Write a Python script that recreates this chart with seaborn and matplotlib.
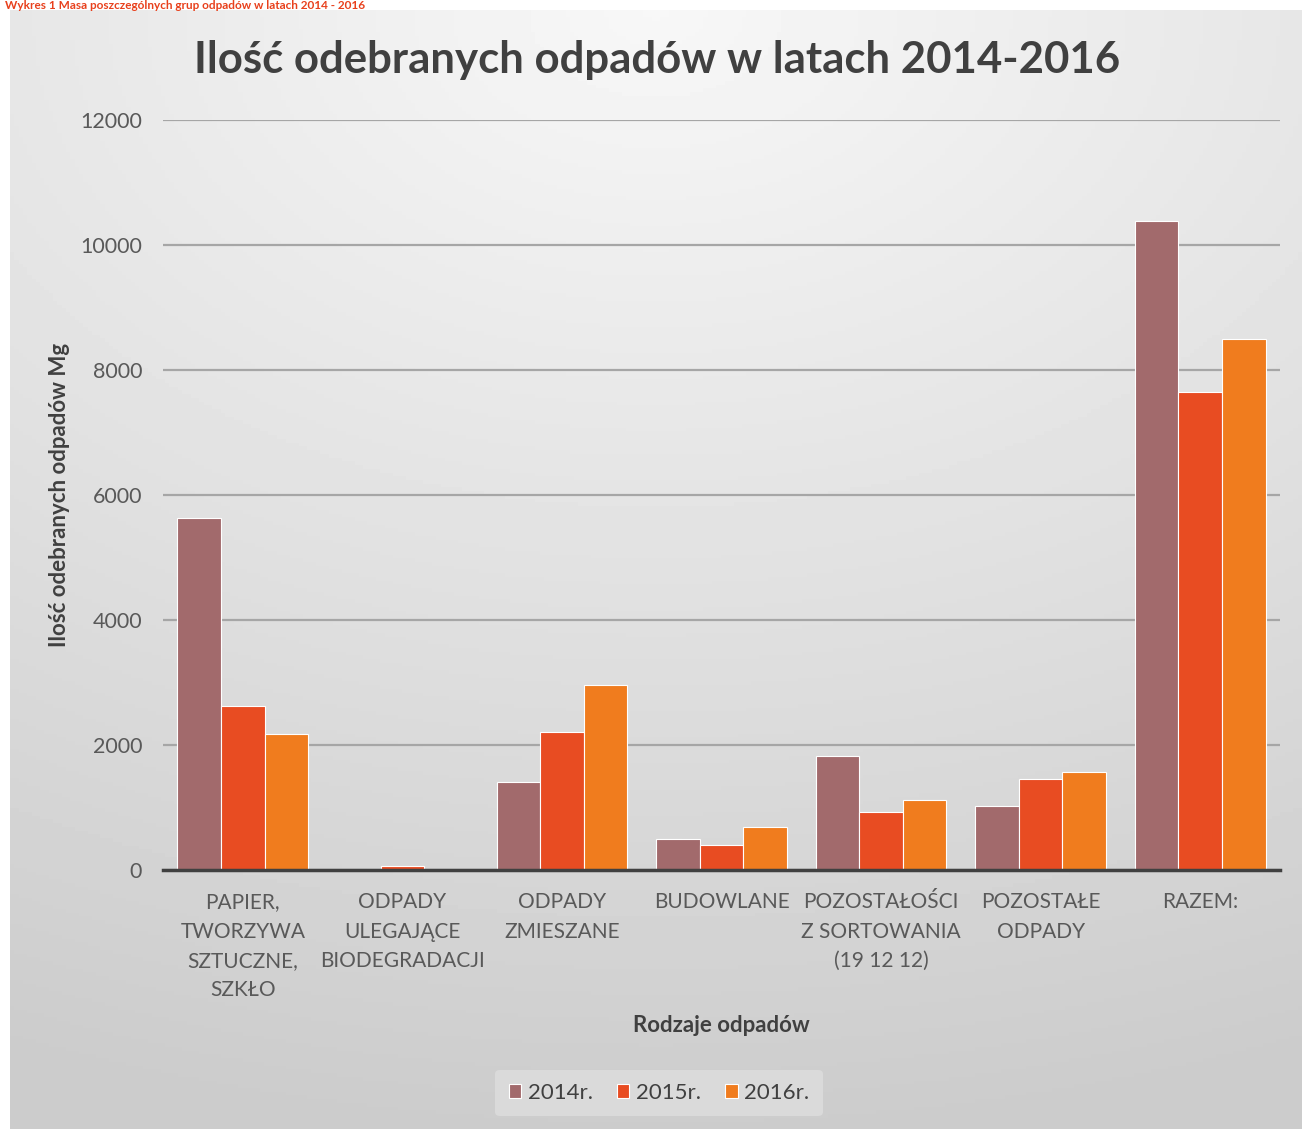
import numpy as np
import pandas as pd
import matplotlib
matplotlib.use("Agg")
import matplotlib.pyplot as plt
import seaborn as sns
from matplotlib.ticker import FixedLocator

# Dane
kategorie = ["PAPIER,\nTWORZYWA\nSZTUCZNE,\nSZKŁO",
             "ODPADY\nULEGAJĄCE\nBIODEGRADACJI",
             "ODPADY\nZMIESZANE",
             "BUDOWLANE",
             "POZOSTAŁOŚCI\nZ SORTOWANIA\n(19 12 12)",
             "POZOSTAŁE\nODPADY",
             "RAZEM:"]
lata = ["2014r.", "2015r.", "2016r."]
masa_2014 = [5630, 0, 1410, 500, 1830, 1020, 10380]
masa_2015 = [2620, 60, 2210, 400, 930, 1460, 7650]
masa_2016 = [2180, 0, 2960, 690, 1120, 1570, 8490]
kolory = ["#a26a6c", "#e84c22", "#f07c1e"]

df = pd.DataFrame({
    "kategoria": kategorie * 3,
    "rok": [lata[0]] * 7 + [lata[1]] * 7 + [lata[2]] * 7,
    "masa": masa_2014 + masa_2015 + masa_2016,
})

sns.set_style("white")
plt.rcParams['font.family'] = ['Lato', 'DejaVu Sans']

W, H = 1302, 1129
fig = plt.figure(figsize=(W / 100, H / 100), dpi=100)
fig.patch.set_facecolor("white")

# tło z gradientem
tlo = fig.add_axes([10 / W, 0, 1 - 10 / W, (H - 10) / H], zorder=0)
yy, xx = np.mgrid[0:1:300j, 0:1:300j]
grad = 0.97 - 0.17 * np.clip(np.sqrt((xx - 0.5) ** 2 * 0.6 + (yy) ** 2), 0, 1)
tlo.imshow(grad, cmap="gray", vmin=0, vmax=1, aspect="auto", extent=[0, 1, 0, 1],
           origin="upper")
tlo.axis("off")

ax = fig.add_axes([163 / W, 259 / H, 1117 / W, 750 / H], zorder=1)
ax.patch.set_alpha(0)

sns.barplot(data=df, x="kategoria", y="masa", hue="rok", palette=kolory,
            width=0.82, ax=ax, edgecolor="white", linewidth=0.8, saturation=1)

ax.set_ylim(0, 12000)
ax.set_xlim(-0.5, 6.5)
ax.set_yticks(range(0, 12001, 2000))
ax.yaxis.grid(True, color="#a6a6a6", linewidth=1.6)
ax.set_axisbelow(True)
for s in ["top", "right", "left"]:
    ax.spines[s].set_visible(False)
ax.spines["bottom"].set_color("#404040")
ax.spines["bottom"].set_linewidth(2.5)

ax.tick_params(axis="y", length=0, labelsize=15.5, labelcolor="#595959", pad=15)
ax.tick_params(axis="x", which="major", length=0, labelsize=15,
               labelcolor="#595959", pad=16)
ax.xaxis.set_minor_locator(FixedLocator(np.arange(-0.5, 7, 1)))
ax.tick_params(axis="x", which="minor", length=7, width=2.5, color="#404040")
for t in ax.get_xticklabels():
    t.set_linespacing(1.58)

ax.set_xlabel("Rodzaje odpadów", fontsize=16, fontweight="bold", color="#404040")
ax.xaxis.set_label_coords(0.5, -(1025 - 870) / 750)
ax.set_ylabel("Ilość odebranych odpadów Mg", fontsize=16, fontweight="bold",
              color="#404040")
ax.yaxis.set_label_coords((60 - 163) / 1117, 0.5)
ax.xaxis.label.set_va("center")
ax.yaxis.label.set_va("center")

fig.text(0.505, 1 - 60 / H, "Ilość odebranych odpadów w latach 2014-2016",
         ha="center", va="center", fontsize=31.5, fontweight="bold", color="#404040")
fig.text(5 / W, 1.0, "Wykres 1 Masa poszczególnych grup odpadów w latach 2014 - 2016",
         ha="left", va="top", fontsize=8.5, fontweight="bold", color="#e8401c")

leg = ax.legend(loc="center", ncol=3, frameon=True,
                fontsize=16, handlelength=0.55, handleheight=0.55, handletextpad=0.3,
                columnspacing=1.1, borderpad=0.6)
leg.get_frame().set_facecolor("#dadada")
leg.get_frame().set_edgecolor("none")
leg.get_frame().set_alpha(1)
for t in leg.get_texts():
    t.set_color("#404040")
leg.set_bbox_to_anchor((659 / W, (H - 1093) / H), transform=fig.transFigure)

fig.savefig("out.png", dpi=100)
